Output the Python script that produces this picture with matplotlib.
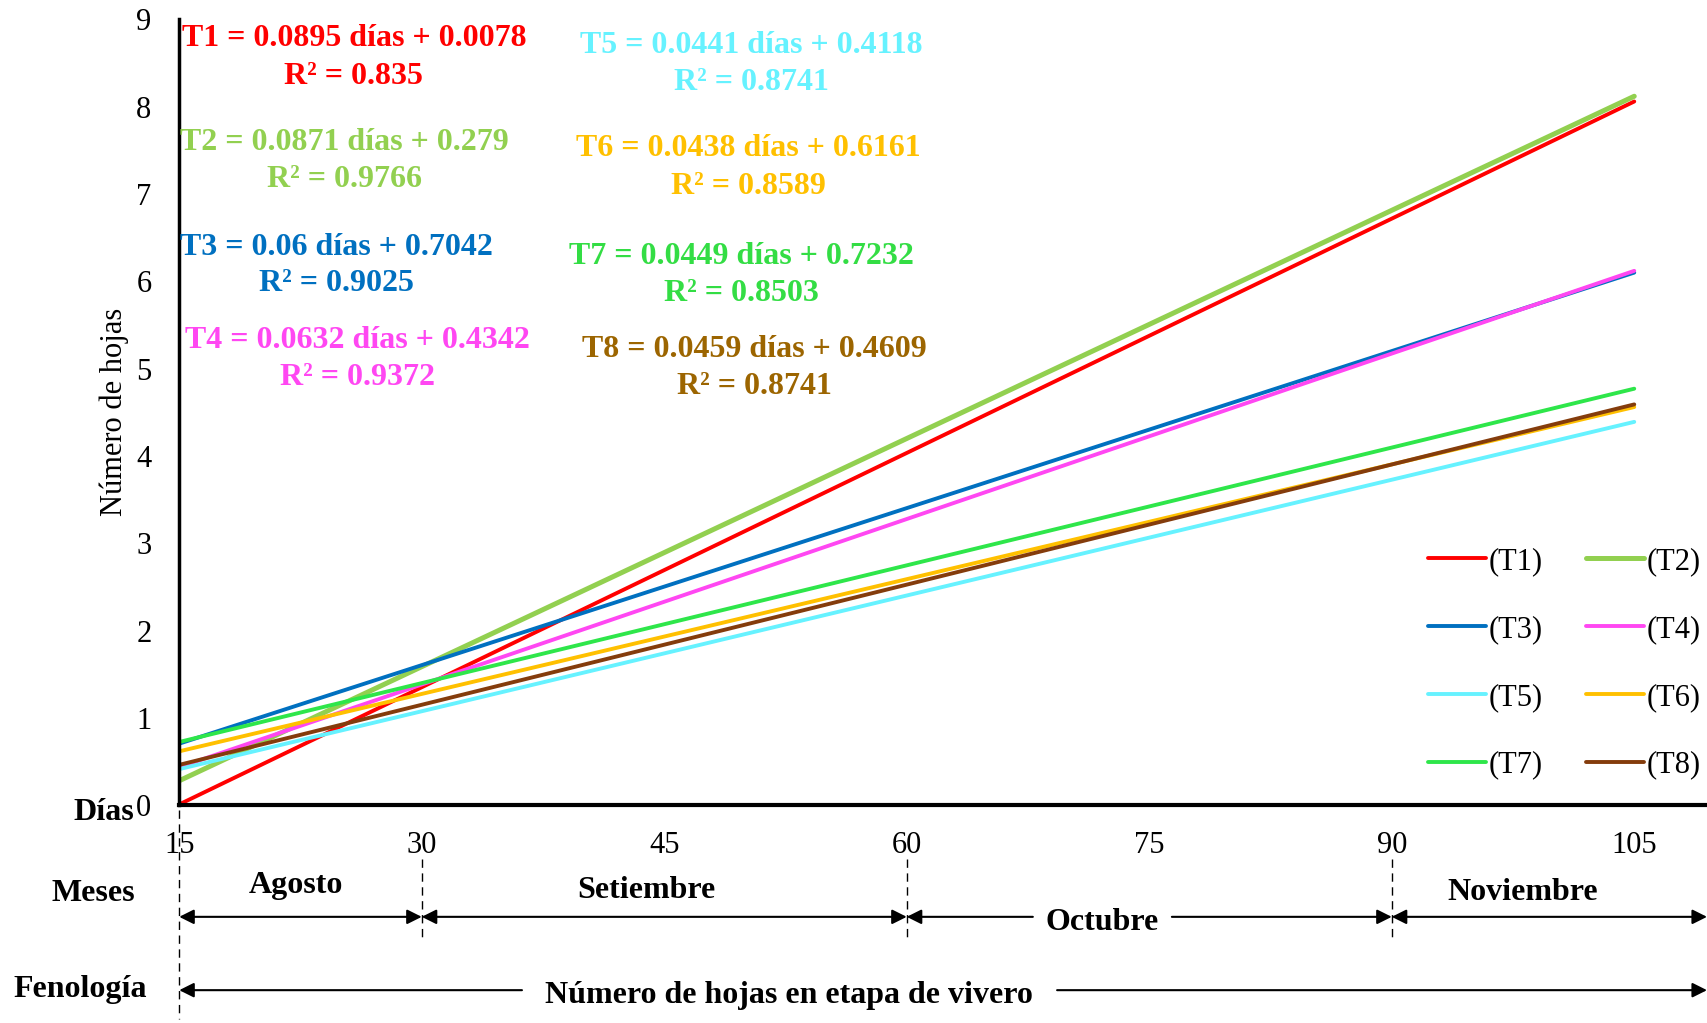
import matplotlib.pyplot as plt

plt.rcParams['font.family'] = ['Liberation Serif', 'DejaVu Serif']

# datos: rectas de tendencia (inicio en 15 dias, fin en 105 dias)
dias = [15, 105]
tratamientos = ['T1', 'T2', 'T3', 'T4', 'T5', 'T6', 'T7', 'T8']
hojas_inicio = [0.008, 0.279, 0.704, 0.434, 0.412, 0.616, 0.723, 0.461]
hojas_fin = [8.06, 8.12, 6.10, 6.12, 4.39, 4.56, 4.77, 4.59]
ecuaciones = ['T1 = 0.0895 días + 0.0078', 'T2 = 0.0871 días + 0.279',
              'T3 = 0.06 días + 0.7042', 'T4 = 0.0632 días + 0.4342',
              'T5 = 0.0441 días + 0.4118', 'T6 = 0.0438 días + 0.6161',
              'T7 = 0.0449 días + 0.7232', 'T8 = 0.0459 días + 0.4609']
r2 = ['R² = 0.835', 'R² = 0.9766', 'R² = 0.9025', 'R² = 0.9372',
      'R² = 0.8741', 'R² = 0.8589', 'R² = 0.8503', 'R² = 0.8741']
x_ticks = [15, 30, 45, 60, 75, 90, 105]
meses = ['Agosto', 'Setiembre', 'Octubre', 'Noviembre']
limites_meses = [15, 30, 60, 90, 109.5]

colores_linea = ['#FF0000', '#92D050', '#0070C0', '#FF47F2',
                 '#66F2FF', '#FFC000', '#2EE64A', '#843C0C']
colores_texto = ['#FF0000', '#92D050', '#0070C0', '#FF47F2',
                 '#66F2FF', '#FFC000', '#33DD44', '#9C6500']
anchos = [2.8, 3.6, 2.8, 2.8, 2.8, 2.8, 2.8, 2.8]

# posicion de las ecuaciones (x, y linea 1, y linea 2)
pos_eq = [(25.8, 8.78, 8.35), (25.2, 7.59, 7.17), (24.7, 6.39, 5.97),
          (26.0, 5.32, 4.90), (50.4, 8.70, 8.28), (50.2, 7.52, 7.09),
          (49.8, 6.28, 5.86), (50.6, 5.22, 4.80)]

fig = plt.figure(figsize=(17.07, 10.23), dpi=100)
ax = fig.add_axes([0.105, 0.213, 0.895, 0.768])

lineas = []
for i in range(len(tratamientos)):
    l, = ax.plot(dias, [hojas_inicio[i], hojas_fin[i]], color=colores_linea[i],
                 lw=anchos[i], label='(' + tratamientos[i] + ')',
                 solid_capstyle='round')
    lineas.append(l)

for i in range(len(tratamientos)):
    x, y1, y2 = pos_eq[i]
    ax.text(x, y1, ecuaciones[i], color=colores_texto[i], fontsize=23,
            fontweight='bold', ha='center', va='center')
    ax.text(x, y2, r2[i], color=colores_texto[i], fontsize=23,
            fontweight='bold', ha='center', va='center')

ax.set_xlim(15, 109.5)
ax.set_ylim(0, 9)
ax.set_xticks(x_ticks)
ax.set_yticks(range(10))
ax.tick_params(axis='both', length=0, labelsize=22)
ax.tick_params(axis='y', pad=20)
ax.tick_params(axis='x', pad=19)
for s in ['top', 'right']:
    ax.spines[s].set_visible(False)
ax.spines['left'].set_linewidth(2.5)
ax.spines['bottom'].set_linewidth(3)

ax.set_ylabel('Número de hojas', fontsize=22)
ax.yaxis.set_label_coords(-0.033, 0.5)

# leyenda por filas: T1 T2 / T3 T4 / ...
orden = [0, 2, 4, 6, 1, 3, 5, 7]
ax.legend([lineas[k] for k in orden], ['(' + tratamientos[k] + ')' for k in orden],
          loc='lower right', bbox_to_anchor=(1.006, 0.013), ncol=2, frameon=False,
          fontsize=22, handlelength=1.9, handletextpad=0.1, columnspacing=1.4,
          labelspacing=1.27, borderpad=0)

# parte inferior: dias, meses, fenologia
ax.text(12.2, -0.08, 'Días', fontsize=23, fontweight='bold', ha='right', va='center')
ax.text(9.7, -1.01, 'Meses', fontsize=23, fontweight='bold', ha='center', va='center')
ax.text(8.9, -2.11, 'Fenología', fontsize=23, fontweight='bold', ha='center', va='center')

ax.plot([15, 15], [-0.06, -2.45], ls=(0, (6, 4)), color='black', lw=1, clip_on=False)
for xv in limites_meses[1:-1]:
    ax.plot([xv, xv], [-0.62, -1.52], ls=(0, (6, 4)), color='black', lw=1, clip_on=False)

flecha = dict(arrowstyle='<|-|>', mutation_scale=22, lw=1.5, color='black',
              shrinkA=0, shrinkB=0)
flecha_der = dict(arrowstyle='-|>', mutation_scale=22, lw=1.5, color='black',
                  shrinkA=0, shrinkB=0)

y_mes = -1.28
ax.annotate('', xy=(limites_meses[1], y_mes), xytext=(limites_meses[0], y_mes),
            arrowprops=flecha, annotation_clip=False)
ax.annotate('', xy=(limites_meses[2], y_mes), xytext=(limites_meses[1], y_mes),
            arrowprops=flecha, annotation_clip=False)
ax.annotate('', xy=(limites_meses[2], y_mes), xytext=(67.8, y_mes),
            arrowprops=flecha_der, annotation_clip=False)
ax.annotate('', xy=(limites_meses[3], y_mes), xytext=(76.4, y_mes),
            arrowprops=flecha_der, annotation_clip=False)
ax.annotate('', xy=(limites_meses[4], y_mes), xytext=(limites_meses[3], y_mes),
            arrowprops=flecha, annotation_clip=False)

pos_mes = [(22.2, -0.925), (43.9, -0.975), (72.1, -1.34), (98.1, -1.0)]
for m, (xm, ym) in zip(meses, pos_mes):
    ax.text(xm, ym, m, fontsize=23, fontweight='bold', ha='center', va='center')

y_fen = -2.12
ax.annotate('', xy=(15, y_fen), xytext=(36.2, y_fen),
            arrowprops=flecha_der, annotation_clip=False)
ax.annotate('', xy=(109.5, y_fen), xytext=(69.3, y_fen),
            arrowprops=flecha_der, annotation_clip=False)
ax.text(52.7, -2.18, 'Número de hojas en etapa de vivero', fontsize=23,
        fontweight='bold', ha='center', va='center')

fig.savefig('out.png', dpi=100)
